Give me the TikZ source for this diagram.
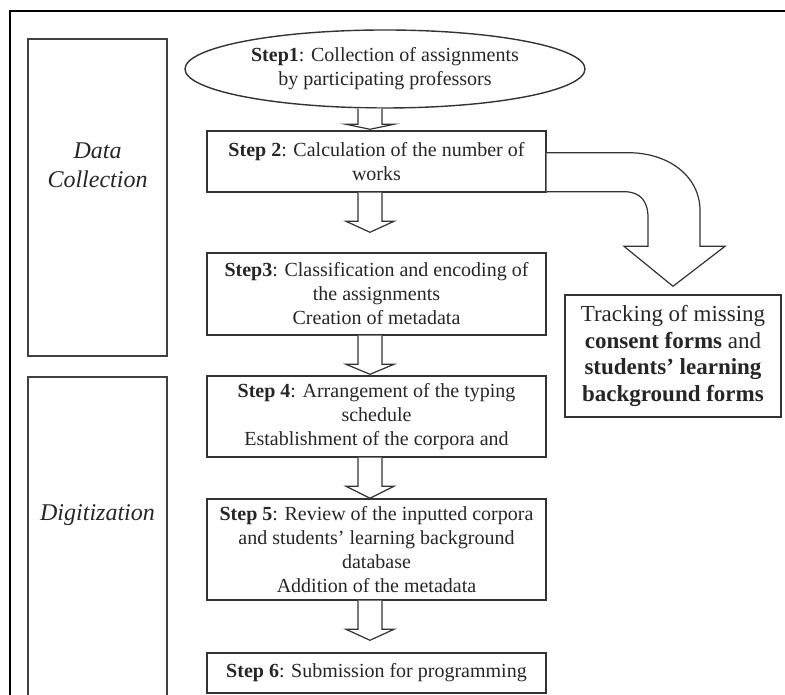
\documentclass[tikz,border=0pt]{standalone}
\usepackage{fontspec}
\setmainfont{Liberation Serif}
\usetikzlibrary{calc,shapes.geometric}

\newcommand{\fatarrow}[4]{%
    \draw[fatline] let \p1=(#1.south), \p2=(#2.north) in
        (\ax-12,\y1) -- (\ax-12,\y2+#3+#4) -- (\ax-24,\y2+#3+#4) -- (\ax,\y2+#3)
        -- (\ax+24,\y2+#3+#4) -- (\ax+12,\y2+#3+#4) -- (\ax+12,\y1);
}

\begin{document}
\begin{tikzpicture}[x=1pt,y=1pt,
    stepbox/.style={draw=black!80, line width=1.4pt, minimum width=339pt,
        inner sep=0pt, align=center, text=black!85, font=\fontsize{20}{24}\selectfont},
    phasebox/.style={draw=black!75, line width=1.4pt},
    phaselabel/.style={align=center, text=black!85, font=\fontsize{24}{29}\selectfont\itshape},
    fatline/.style={draw=black!80, line width=1.2pt, fill=white, line join=miter}]
    \def\ax{370}

    \useasboundingbox (0,0) rectangle (785,695);

    % frame
    \draw[line width=2.4pt] (10,0) -- (10,684) -- (785,684);

    % phases
    \node[phasebox, minimum width=139pt, minimum height=317pt] (dc) at (97.5,497.5) {};
    \node[phaselabel] (dclabel) at (97.5,530) {Data\\Collection};
    \draw[phasebox] (28,-3) -- (28,318) -- (167,318) -- (167,-3);
    \node[phaselabel] (diglabel) at (97.5,180) {Digitization};

    % steps
    \node[stepbox, shape=ellipse, minimum width=400pt, minimum height=78pt] (s1) at (385,626)
        {\textbf{Step1}: Collection of assignments\\by participating professors};
    \node[stepbox, minimum height=61pt] (s2) at (376.5,533.5)
        {\textbf{Step 2}: Calculation of the number of\\works};
    \node[stepbox, minimum height=82pt] (s3) at (376.5,401)
        {\textbf{Step3}: Classification and encoding of\\the assignments\\Creation of metadata};
    \node[stepbox, minimum height=81pt] (s4) at (376.5,278.5)
        {\textbf{Step 4}: Arrangement of the typing\\schedule\\Establishment of the corpora and};
    \node[stepbox, minimum height=101pt] (s5) at (376.5,145.5)
        {\textbf{Step 5}: Review of the inputted corpora\\and students’ learning background\\database\\Addition of the metadata};
    \node[stepbox, minimum height=40pt] (s6) at (376.5,22)
        {\textbf{Step 6}: Submission for programming};

    \node[stepbox, minimum width=216pt, minimum height=122pt,
        font=\fontsize{23}{26.5}\selectfont] (track) at (673,339)
        {Tracking of missing\\\textbf{consent forms} and\\\textbf{students’ learning}\\\textbf{background forms}};

    % arrows
    \foreach \a/\b/\g/\h in {s1/s2/1/5, s2/s3/20/11, s3/s4/1/10, s4/s5/0/12, s5/s6/12/11} {
        \fatarrow{\a}{\b}{\g}{\h}
    }

    \draw[fatline] let \p1=(s2.south east), \p2=(track.north) in
        (\x1,\y1+40) -- (\x2-45,\y1+40)
        .. controls (\x2-5,\y1+40) and (\x2+27,\y1+17) .. (\x2+27,\y1-18)
        -- (\x2+27,\y2+48) -- (\x2+52,\y2+48) -- (\x2,\y2+8) -- (\x2-49,\y2+48)
        -- (\x2-25,\y2+48) -- (\x2-25,\y1-25)
        .. controls (\x2-25,\y1-8) and (\x2-33,\y1+1) .. (\x2-49,\y1+1) -- (\x1,\y1+1);
\end{tikzpicture}
\end{document}
